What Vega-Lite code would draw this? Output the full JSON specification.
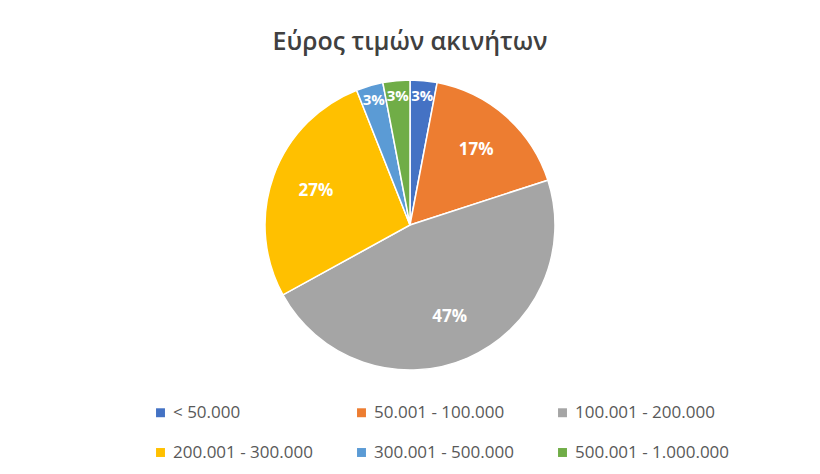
{
  "$schema": "https://vega.github.io/schema/vega-lite/v6.json",
  "width": 820,
  "height": 340,
  "autosize": "none",
  "padding": {"top": 55, "bottom": 79, "left": 0, "right": 0},
  "background": "white",
  "title": {
    "text": "Εύρος τιμών ακινήτων",
    "font": "Open Sans",
    "fontSize": 25,
    "fontWeight": 600,
    "color": "#404040",
    "anchor": "middle",
    "offset": 0
  },
  "data": {
    "values": [
      {"range": "< 50.000", "order": 1, "value": 3, "label": "3%"},
      {"range": "50.001 - 100.000", "order": 2, "value": 17, "label": "17%"},
      {"range": "100.001 - 200.000", "order": 3, "value": 47, "label": "47%"},
      {"range": "200.001 - 300.000", "order": 4, "value": 27, "label": "27%"},
      {"range": "300.001 - 500.000", "order": 5, "value": 3, "label": "3%"},
      {"range": "500.001 - 1.000.000", "order": 6, "value": 3, "label": "3%"}
    ]
  },
  "encoding": {
    "theta": {"field": "value", "type": "quantitative", "stack": true},
    "order": {"field": "order", "type": "quantitative"},
    "color": {
      "field": "range",
      "type": "nominal",
      "sort": ["< 50.000", "50.001 - 100.000", "100.001 - 200.000", "200.001 - 300.000", "300.001 - 500.000", "500.001 - 1.000.000"],
      "scale": {
        "domain": ["< 50.000", "50.001 - 100.000", "100.001 - 200.000", "200.001 - 300.000", "300.001 - 500.000", "500.001 - 1.000.000"],
        "range": ["#4472C4", "#ED7D31", "#A5A5A5", "#FFC000", "#5B9BD5", "#70AD47"]
      },
      "legend": {
        "title": null,
        "orient": "none",
        "legendX": 152,
        "legendY": 349,
        "direction": "horizontal",
        "columns": 3,
        "gridAlign": "each",
        "symbolType": "square",
        "symbolSize": 80,
        "symbolStrokeWidth": 0,
        "labelFont": "Open Sans",
        "labelFontSize": 17,
        "labelColor": "#595959",
        "columnPadding": 40,
        "rowPadding": 22,
        "labelLimit": 300
      }
    }
  },
  "layer": [
    {
      "mark": {"type": "arc", "outerRadius": 145, "stroke": "white", "strokeWidth": 1.5}
    },
    {
      "mark": {
        "type": "text",
        "radius": 100,
        "font": "Open Sans",
        "fontSize": 17,
        "fontWeight": "bold",
        "fill": "white"
      },
      "encoding": {
        "text": {"condition": {"test": "datum.value >= 10", "field": "label"}, "value": ""},
        "color": {"value": "white"}
      }
    },
    {
      "mark": {
        "type": "text",
        "radius": 130,
        "font": "Open Sans",
        "fontSize": 15,
        "fontWeight": "bold",
        "fill": "white"
      },
      "encoding": {
        "text": {"condition": {"test": "datum.value < 10", "field": "label"}, "value": ""},
        "color": {"value": "white"}
      }
    }
  ],
  "config": {"view": {"stroke": null}}
}
